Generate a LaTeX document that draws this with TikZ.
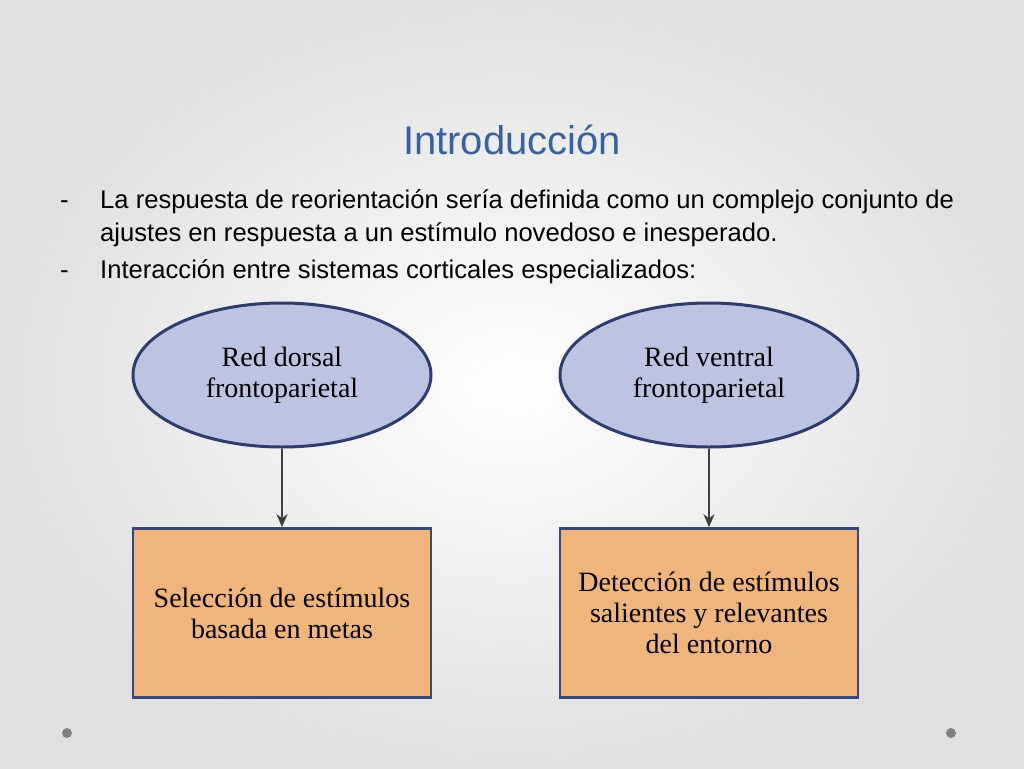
\documentclass[tikz,border=0pt]{standalone}
\usepackage{fontspec}
\setmainfont{Liberation Serif}
\newfontfamily\arialf{Liberation Sans}
\usetikzlibrary{shapes.geometric,arrows.meta}
\definecolor{titleblue}{RGB}{55,98,160}
\definecolor{ellfill}{RGB}{187,197,226}
\definecolor{ellline}{RGB}{47,60,110}
\definecolor{boxfill}{RGB}{240,181,124}
\definecolor{boxline}{RGB}{58,72,118}
\tikzset{
 ell/.style={ellipse,draw=ellline,fill=ellfill,line width=3pt,minimum width=298pt,minimum height=144pt,inner sep=0pt,align=center,font=\fontsize{28}{31}\selectfont},
 bx/.style={rectangle,draw=boxline,fill=boxfill,line width=2.7pt,minimum width=298pt,minimum height=169pt,align=center,font=\fontsize{28}{31}\selectfont},
 arr/.style={-{Stealth[length=13pt,width=11pt]},draw=black!75,line width=2.6pt},
 bul/.style={anchor=base west,font=\arialf\fontsize{25.6}{30}\selectfont,inner sep=0pt},
 dot/.style={circle,fill=black!50,inner sep=0pt,minimum size=10pt}
}
\begin{document}
\begin{tikzpicture}[x=1pt,y=-1pt]
\shade[inner color=white,outer color=black!12] (0,0) rectangle (1024,768);
\useasboundingbox (0,0) rectangle (1024,768);
\node[dot] (d1) at (67,733) {};
\node[dot] (d2) at (951,733) {};
\node[font=\arialf\fontsize{40}{46}\selectfont,text=titleblue] (t) at (512,140) {Introducción};
\node[bul] (b1) at (60,208) {-};
\node[bul] (l1) at (100,208) {La respuesta de reorientación sería definida como un complejo conjunto de};
\node[bul] (l2) at (100,241) {ajustes en respuesta a un estímulo novedoso e inesperado.};
\node[bul] (b2) at (60,278) {-};
\node[bul] (l3) at (100,278) {Interacción entre sistemas corticales especializados:};
\node[ell] (e1) at (282,375) {Red dorsal\\frontoparietal};
\node[ell] (e2) at (709,375) {Red ventral\\frontoparietal};
\node[bx] (r1) at (282,613) {Selección de estímulos\\basada en metas};
\node[bx] (r2) at (709,613) {Detección de estímulos\\salientes y relevantes\\del entorno};
\draw[arr] (e1) -- (r1);
\draw[arr] (e2) -- (r2);
\end{tikzpicture}
\end{document}
